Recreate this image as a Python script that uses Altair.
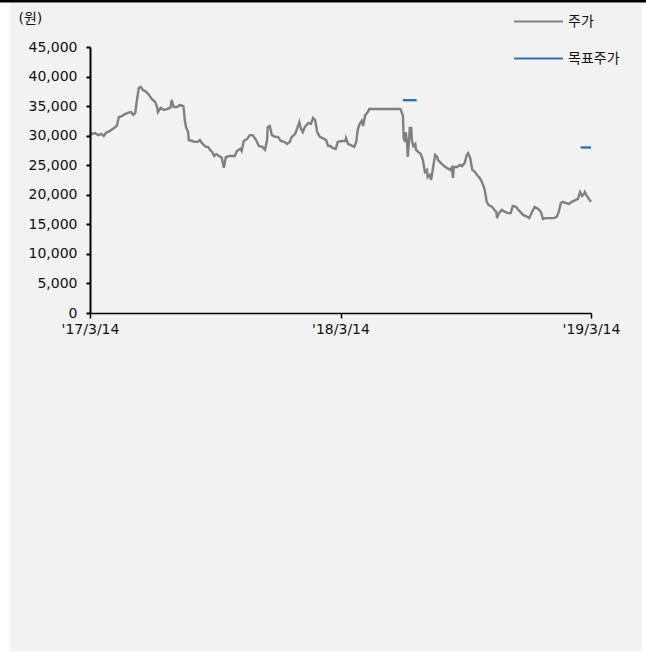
import altair as alt
import pandas as pd

START = "2017-03-14"

# calendar days after 2017-03-14 and closing price (원)
DAYS = [0, 3, 7, 12, 16, 20, 23, 29, 35, 39, 42, 47, 51, 55, 60, 63, 66, 68, 71, 74,
        77, 82, 86, 90, 95, 98, 99, 103, 108, 112, 117, 119, 122, 127, 131, 136, 137, 138, 140, 143,
        144, 149, 153, 157, 160, 163, 166, 169, 172, 175, 178, 181,
        184, 188, 192, 195, 198, 204, 211, 214, 219, 221, 224, 229, 233, 237, 242, 246, 251, 255, 258, 259,
        262, 265, 270, 274, 278, 283, 287, 291, 294, 299, 302, 305, 307, 310, 313, 318, 322, 325, 328, 331,
        335, 339, 344, 347, 350, 354, 358, 361, 367,
        372, 373, 376, 380, 385, 388, 390, 393, 396, 398, 401, 404, 407, 409, 423, 437, 452, 453, 456, 457,
        459, 460, 462, 463, 465, 466, 468, 469, 471, 474, 475, 478, 482, 485, 488, 491, 492, 495, 497, 500,
        503, 506, 507, 511, 516, 520, 525, 527, 529, 530, 535, 539, 542, 546, 549, 551,
        554, 557, 561, 564, 568, 571, 574, 576, 578, 581, 586, 589, 592, 593, 596, 600, 605, 609, 613, 616,
        621, 624, 627, 631, 635, 640, 644, 648, 653, 657, 660, 664, 670, 676, 680, 683, 686, 689, 694, 698,
        702, 707, 711, 714, 717, 720, 721, 724, 727, 730]

PRICE = [30400, 30300, 30450, 30100, 30300, 29950, 30450, 30800, 31300, 31650, 33150, 33350, 33650, 33850, 34000, 33500, 33850, 35700, 38050, 38250,
         37750, 37400, 36900, 36200, 35700, 34700, 34000, 34700, 34350, 34500, 34700, 36050, 34850, 34850, 35200, 35000, 34200, 32650, 31450, 30600,
         29250, 29100, 28950, 28950, 29250, 28750, 28400, 28100, 28100, 27600, 27250, 26550,
         26900, 26550, 26250, 24550, 26400, 26550, 26550, 27400, 27750, 27400, 29100, 29450, 30100, 30100, 29250, 28250, 28100, 27600, 29250, 31450,
         31650, 30100, 29800, 29800, 29100, 28950, 28600, 28950, 29800, 30300, 31300, 32300, 31300, 30600, 31450, 32150, 32000, 33000, 32650, 30600,
         29800, 29600, 29250, 28250, 28250, 27900, 27750, 28950, 29100,
         29100, 29600, 28600, 28400, 28100, 28950, 30950, 32000, 32500, 31650, 33500, 33850, 34500, 34500, 34500, 34500, 34500, 34350, 33350, 29600,
         28950, 30600, 28950, 26400, 29250, 31300, 31300, 29250, 28250, 28600, 27600, 27250, 26900, 25900, 23850, 24200, 23000, 23350, 22500, 24700,
         26750, 26400, 25900, 25400, 24850, 24550, 24200, 24550, 22850, 24700, 24700, 25050, 24850, 25400, 26750, 27050,
         26200, 24200, 23850, 23350, 22850, 22150, 21300, 20300, 18800, 18250, 17950, 17450, 17100, 16050, 16900, 17450, 17100, 16900, 16900, 18100,
         17950, 17450, 17100, 16600, 16400, 16050, 17100, 17950, 17600, 17100, 15900, 16050, 16050, 16050, 16250, 17100, 18600, 18800, 18600, 18450,
         18800, 19100, 19300, 20450, 19800, 20150, 20450, 19800, 19300, 18800]

# target price periods (days after start) and value
TARGET_START = [456, 715]
TARGET_END = [476, 730]
TARGET_PRICE = [36000, 28000]

SERIES = ["주가", "목표주가"]
COLORS = ["#808080", "#2e75b6"]
Y_TICKS = [0, 5000, 10000, 15000, 20000, 25000, 30000, 35000, 40000, 45000]

FONT = "DejaVu Sans, Noto Sans CJK KR"
KFONT = "Noto Sans CJK KR"

base = pd.Timestamp(START)
price_df = pd.DataFrame({
    "date": base + pd.to_timedelta(DAYS, unit="D"),
    "price": PRICE,
    "series": SERIES[0],
    "seg": 0,
})
rows = []
for i, (s, e, p) in enumerate(zip(TARGET_START, TARGET_END, TARGET_PRICE)):
    rows.append({"date": base + pd.Timedelta(days=s), "price": p, "series": SERIES[1], "seg": i + 1})
    rows.append({"date": base + pd.Timedelta(days=e), "price": p, "series": SERIES[1], "seg": i + 1})
df = pd.concat([price_df, pd.DataFrame(rows)], ignore_index=True)

d0 = alt.DateTime(year=2017, month=3, date=14)
d1 = alt.DateTime(year=2018, month=3, date=14)
d2 = alt.DateTime(year=2019, month=3, date=14)

panel = alt.Chart(alt.Data(values=[{"k": 1}])).mark_rect(color="#f2f2f2").encode(
    x=alt.value(-80), x2=alt.value(552), y=alt.value(-44), y2=alt.value(604)
)
topline = alt.Chart(alt.Data(values=[{"k": 1}])).mark_rule(color="#000000", strokeWidth=3).encode(
    x=alt.value(-90), x2=alt.value(556), y=alt.value(-46)
)

lines = alt.Chart(df).mark_line(strokeWidth=2.4).encode(
    x=alt.X("date:T",
            scale=alt.Scale(domain=[d0, d2]),
            axis=alt.Axis(values=[d0, d1, d2], zindex=2, labelFlush=False,
                          labelExpr="\"'\" + timeFormat(datum.value, '%y/%-m/%-d')",
                          title=None, grid=False, tickSize=5, tickWidth=1.5, domainWidth=1.5,
                          domainColor="#000", tickColor="#000", labelColor="#111",
                          labelFont=FONT, labelFontSize=14, labelPadding=4)),
    y=alt.Y("price:Q",
            scale=alt.Scale(domain=[0, 45000], nice=False),
            axis=alt.Axis(values=Y_TICKS, labelExpr="format(datum.value, ',')",
                          grid=False, tickSize=4, tickWidth=2, domainWidth=2,
                          zindex=2, labelFlush=False,
                          domainColor="#000", tickColor="#000", labelColor="#111",
                          labelFont=FONT, labelFontSize=14, labelPadding=9,
                          title="(원)", titleAngle=0, titleAlign="left", titleBaseline="middle",
                          titleX=-72, titleY=-29, titleFont=FONT, titleFontSize=14,
                          titleFontWeight="normal", titleColor="#111")),
    color=alt.Color("series:N", scale=alt.Scale(domain=SERIES, range=COLORS),
                    legend=alt.Legend(title=None, orient="none", legendX=423, legendY=-51,
                                      direction="vertical", symbolType="stroke", symbolSize=2401,
                                      symbolStrokeWidth=2, labelFont=KFONT, labelFontSize=14,
                                      labelColor="#111", labelOffset=4, rowPadding=4)),
    detail="seg:N",
    order="date:T",
)

chart = alt.layer(panel, topline, lines).properties(
    width=501, height=266,
    autosize=alt.AutoSizeParams(type="none"),
    padding={"left": 90, "top": 47, "right": 55, "bottom": 340},
    background="#ffffff",
).configure_view(stroke=None)

chart.save("out.html", embed_options={"renderer": "svg", "actions": False})
